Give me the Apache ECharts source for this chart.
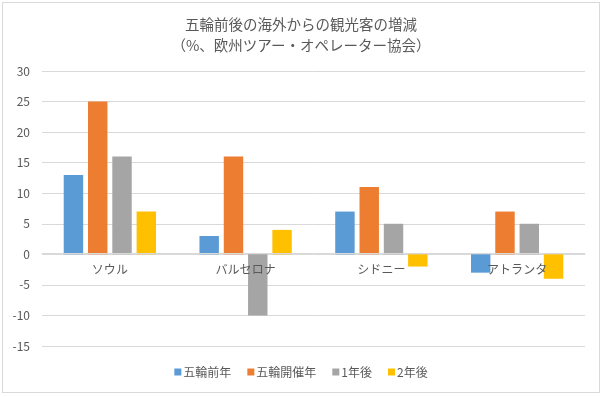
<!DOCTYPE html>
<html><head><meta charset="utf-8">
<script src="https://cdn.jsdelivr.net/npm/echarts@6/dist/echarts.min.js"></script>
<style>html,body{margin:0;padding:0;background:#fff}#c{position:absolute;left:2px;top:2px;width:598px;height:391px;border:1px solid #d9d9d9;box-sizing:border-box}</style>
</head><body><div id="c"></div>
<script>
const categories = ['ソウル','バルセロナ','シドニー','アトランタ'];
const seriesNames = ['五輪前年','五輪開催年','1年後','2年後'];
const before = [13,3,7,-3];
const during = [25,16,11,7];
const after1 = [16,-10,5,5];
const after2 = [7,4,-2,-4];
const colors = ['#5B9BD5','#ED7D31','#A5A5A5','#FFC000'];
const font = '"Noto Sans CJK JP", sans-serif';
const chart = echarts.init(document.getElementById('c'));
const data = [before, during, after1, after2];
const gridTop = 68, gridBottom = 46, H = 391;
const yMin = -15, yMax = 30;
const zeroOffset = (H - gridTop - gridBottom) * (0 - yMin) / (yMax - yMin);
chart.setOption({
  animation:false,
  title:{text:'五輪前後の海外からの観光客の増減\n（%、欧州ツアー・オペレーター協会）',left:'center',top:6,
    textStyle:{fontFamily:font,fontSize:14.5,fontWeight:'normal',color:'#595959',lineHeight:21}},
  legend:{bottom:9,left:'center',itemWidth:7,itemHeight:7,itemGap:16,icon:'rect',
    textStyle:{fontFamily:font,fontSize:12,color:'#595959',padding:[0,0,0,-3]},data:seriesNames},
  grid:{left:39,right:14,top:gridTop,bottom:gridBottom},
  xAxis:{type:'category',data:categories,axisTick:{show:false},offset:-zeroOffset,z:5,
    axisLine:{onZero:false,lineStyle:{color:'#d9d9d9'}},
    axisLabel:{fontFamily:font,fontSize:12,color:'#595959',margin:10}},
  yAxis:{type:'value',min:yMin,max:yMax,interval:5,axisLine:{show:false},axisTick:{show:false},
    splitLine:{lineStyle:{color:'#d9d9d9'}},
    axisLabel:{fontFamily:font,fontSize:12,color:'#595959',margin:12}},
  series:seriesNames.map((n,i)=>({name:n,type:'bar',data:data[i],itemStyle:{color:colors[i]},
    barGap:'25%',barCategoryGap:'32%'}))
});
</script></body></html>
